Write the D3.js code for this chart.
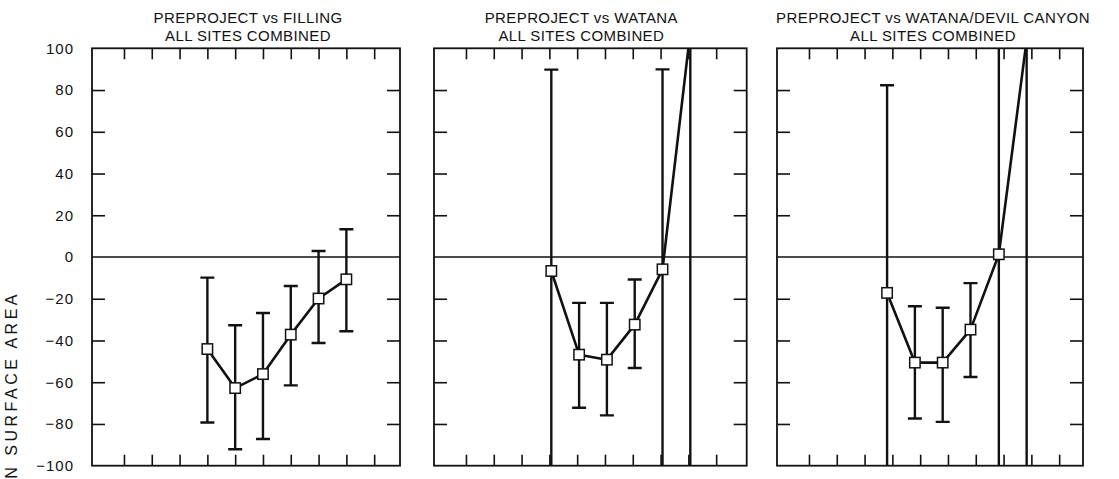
<!DOCTYPE html>
<html>
<head>
<meta charset="utf-8">
<script src="https://cdn.jsdelivr.net/npm/d3@7"></script>
<style>
  html, body { margin: 0; padding: 0; background: #fff; }
  svg { display: block; }
  text { font-family: "Liberation Sans", Arial, sans-serif; fill: #111; }
</style>
</head>
<body>
<svg id="chart" width="1119" height="479"></svg>
<script>
// ---------- data ----------
const xTicks = [1, 2, 3, 4, 5, 6, 7, 8, 9, 10];
const yTicks = [-100, -80, -60, -40, -20, 0, 20, 40, 60, 80, 100];
const titleLine1 = ["PREPROJECT vs FILLING", "PREPROJECT vs WATANA", "PREPROJECT vs WATANA/DEVIL CANYON"];
const titleLine2 = ["ALL SITES COMBINED", "ALL SITES COMBINED", "ALL SITES COMBINED"];
const yAxisTitle = "% CHANGE IN SURFACE AREA";

const fillingX    = [4, 5, 6, 7, 8, 9];
const fillingMean = [-44.1, -62.8, -56.1, -37.2, -19.9, -10.7];
const fillingLow  = [-79.3, -92.1, -87.2, -61.5, -41.2, -35.6];
const fillingHigh = [-9.9, -32.7, -26.8, -13.9, 2.9, 13.3];

const watanaX    = [4.07, 5.07, 6.07, 7.07, 8.07, 9.07];
const watanaMean = [-6.7, -46.8, -49.2, -32.4, -5.9, 108];
const watanaLow  = [-180, -72.2, -75.9, -53.2, -180, -300];
const watanaHigh = [89.8, -22.0, -22.0, -10.8, 89.9, 300];

const devilX    = [3.81, 4.81, 5.81, 6.81, 7.83, 8.83];
const devilMean = [-17.2, -50.6, -50.6, -34.8, 1.3, 104];
const devilLow  = [-180, -77.4, -79.0, -57.5, -180, -300];
const devilHigh = [82.3, -23.6, -24.3, -12.5, 130, 300];

// ---------- layout ----------
const plotTop = 48.3, plotBottom = 465.7;
const unitPx = 27.8;
const panels = [
  { left: 92,  right: 400,   titleDx: 2,  labels: true,  x: fillingX, m: fillingMean, lo: fillingLow, hi: fillingHigh },
  { left: 434, right: 746.7, titleDx: -9, labels: false, x: watanaX,  m: watanaMean,  lo: watanaLow,  hi: watanaHigh },
  { left: 777, right: 1083,  titleDx: 3,  labels: false, x: devilX,   m: devilMean,   lo: devilLow,   hi: devilHigh }
];

const svg = d3.select("#chart");
svg.append("rect").attr("width", 1119).attr("height", 479).attr("fill", "#fff");

const y = d3.scaleLinear().domain([-100, 100]).range([plotBottom, plotTop]);

panels.forEach((p, i) => {
  const x = d3.scaleLinear()
    .domain([-0.15, -0.15 + (p.right - p.left) / unitPx])
    .range([p.left, p.right]);
  const g = svg.append("g");
  const w = p.right - p.left, h = plotBottom - plotTop;

  const clipId = "clip" + i;
  svg.append("clipPath").attr("id", clipId)
    .append("rect").attr("x", p.left).attr("y", plotTop).attr("width", w).attr("height", h);

  // zero line
  g.append("line")
    .attr("x1", p.left).attr("x2", p.right)
    .attr("y1", y(0)).attr("y2", y(0))
    .attr("stroke", "#111").attr("stroke-width", 1.3);

  const styleAxis = sel => {
    sel.select(".domain").remove();
    sel.selectAll(".tick line").attr("stroke", "#111").attr("stroke-width", 1.6);
  };
  const yTickMarks = yTicks.filter(v => v !== 0 && Math.abs(v) !== 100);
  g.append("g").attr("transform", `translate(${p.left},0)`)
    .call(d3.axisLeft(y).tickValues(p.labels ? yTicks : yTickMarks).tickSize(-13).tickPadding(18)
      .tickFormat(p.labels ? d3.format("d") : ""))
    .call(styleAxis)
    .call(sel => {
      sel.selectAll(".tick text").attr("font-size", 15).attr("letter-spacing", 1)
        .attr("font-family", "Liberation Sans, Arial, sans-serif").attr("fill", "#111");
      sel.selectAll(".tick").filter(d => d === 0 || Math.abs(d) === 100).select("line").remove();
    });
  g.append("g").attr("transform", `translate(${p.right},0)`)
    .call(d3.axisRight(y).tickValues(yTickMarks).tickSize(-13).tickFormat(""))
    .call(styleAxis);
  g.append("g").attr("transform", `translate(0,${plotTop})`)
    .call(d3.axisTop(x).tickValues(xTicks).tickSize(-11).tickFormat(""))
    .call(styleAxis);
  g.append("g").attr("transform", `translate(0,${plotBottom})`)
    .call(d3.axisBottom(x).tickValues(xTicks).tickSize(-11).tickFormat(""))
    .call(styleAxis);

  g.append("rect")
    .attr("x", p.left).attr("y", plotTop).attr("width", w).attr("height", h)
    .attr("fill", "none").attr("stroke", "#111").attr("stroke-width", 1.8);

  const pts = p.x.map((xv, k) => ({ x: xv, m: p.m[k], lo: p.lo[k], hi: p.hi[k] }));
  const dg = g.append("g").attr("clip-path", `url(#${clipId})`);
  const capW = 7;
  pts.forEach(d => {
    const cx = x(d.x);
    dg.append("line").attr("x1", cx).attr("x2", cx).attr("y1", y(d.lo)).attr("y2", y(d.hi))
      .attr("stroke", "#111").attr("stroke-width", 2.4);
    [d.lo, d.hi].forEach(v => {
      if (Math.abs(v) <= 100) {
        dg.append("line").attr("x1", cx - capW).attr("x2", cx + capW).attr("y1", y(v)).attr("y2", y(v))
          .attr("stroke", "#111").attr("stroke-width", 2.4);
      }
    });
  });
  dg.append("path")
    .datum(pts)
    .attr("d", d3.line().x(d => x(d.x)).y(d => y(d.m)))
    .attr("fill", "none").attr("stroke", "#111").attr("stroke-width", 2.6)
    .attr("stroke-linejoin", "round");
  dg.selectAll("rect.mk").data(pts).enter().append("rect")
    .attr("class", "mk")
    .attr("x", d => x(d.x) - 5.2).attr("y", d => y(d.m) - 5.2)
    .attr("width", 10.4).attr("height", 10.4)
    .attr("fill", "#fff").attr("stroke", "#111").attr("stroke-width", 1.5);

  const cx = (p.left + p.right) / 2 + p.titleDx;
  svg.append("text").attr("x", cx).attr("y", 23).attr("text-anchor", "middle")
    .attr("font-size", 15).attr("letter-spacing", 0.4).text(titleLine1[i]);
  svg.append("text").attr("x", cx).attr("y", 41).attr("text-anchor", "middle")
    .attr("font-size", 15).attr("letter-spacing", 0.4).text(titleLine2[i]);
});

// y axis title: the reference shows it running off the bottom edge of the page
svg.append("text")
  .attr("transform", "translate(17,291) rotate(-90)")
  .attr("text-anchor", "end")
  .attr("font-size", 16).attr("letter-spacing", 3.5)
  .text(yAxisTitle);
</script>
</body>
</html>
